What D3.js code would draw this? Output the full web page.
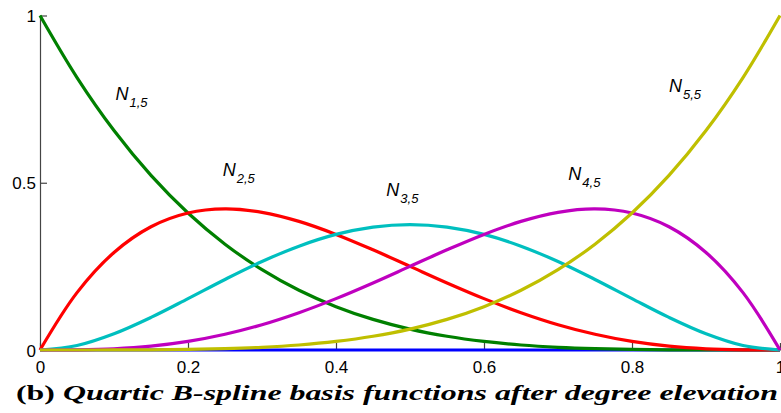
<!DOCTYPE html>
<html>
<head>
<meta charset="utf-8">
<script src="https://cdn.jsdelivr.net/npm/d3@7"></script>
<style>
  html, body { margin: 0; padding: 0; background: #fff; overflow: hidden; }
  svg { display: block; }
  .tick text, .lab { font-family: "Liberation Sans", Arimo, Arial, Helvetica, sans-serif; }
  .cap { font-family: "Liberation Serif", "DejaVu Serif", "Noto Serif", Tinos, "Times New Roman", serif; font-weight: bold; }
</style>
</head>
<body>
<svg id="chart" width="781" height="413"></svg>
<script>
// ---- data ----
const xs = [0, 0.05, 0.1, 0.15, 0.2, 0.25, 0.3, 0.35, 0.4, 0.45, 0.5,
            0.55, 0.6, 0.65, 0.7, 0.75, 0.8, 0.85, 0.9, 0.95, 1];
const N15 = [1, 0.8145, 0.6561, 0.522, 0.4096, 0.3164, 0.2401, 0.1785, 0.1296, 0.0915, 0.0625,
             0.041, 0.0256, 0.015, 0.0081, 0.0039, 0.0016, 0.0005, 0.0001, 0.0000, 0];
const N25 = [0, 0.1715, 0.2916, 0.3685, 0.4096, 0.4219, 0.4116, 0.3845, 0.3456, 0.2995, 0.25,
             0.2005, 0.1536, 0.1115, 0.0756, 0.0469, 0.0256, 0.0115, 0.0036, 0.0005, 0];
const N35 = [0, 0.0135, 0.0486, 0.0975, 0.1536, 0.2109, 0.2646, 0.3105, 0.3456, 0.3675, 0.375,
             0.3675, 0.3456, 0.3105, 0.2646, 0.2109, 0.1536, 0.0975, 0.0486, 0.0135, 0];
const N45 = [0, 0.0005, 0.0036, 0.0115, 0.0256, 0.0469, 0.0756, 0.1115, 0.1536, 0.2005, 0.25,
             0.2995, 0.3456, 0.3845, 0.4116, 0.4219, 0.4096, 0.3685, 0.2916, 0.1715, 0];
const N55 = [0, 0.0000, 0.0001, 0.0005, 0.0016, 0.0039, 0.0081, 0.015, 0.0256, 0.041, 0.0625,
             0.0915, 0.1296, 0.1785, 0.2401, 0.3164, 0.4096, 0.522, 0.6561, 0.8145, 1];
const baseLine = [0, 0, 0, 0, 0, 0, 0, 0, 0, 0, 0, 0, 0, 0, 0, 0, 0, 0, 0, 0, 0];

const seriesNames = ["N_{1,5}", "N_{2,5}", "N_{3,5}", "N_{4,5}", "N_{5,5}"];
const seriesColors = ["#008000", "#ff0000", "#00bfbf", "#bf00bf", "#bfbf00"];
const labelMain = ["N", "N", "N", "N", "N"];
const labelSub = ["1,5", "2,5", "3,5", "4,5", "5,5"];
// label anchor points in data units (x, y of the "N" baseline)
const labelX = [0.102, 0.247, 0.468, 0.714, 0.850];
const labelY = [0.748, 0.521, 0.461, 0.509, 0.772];

const xTicks = [0, 0.2, 0.4, 0.6, 0.8, 1];
const xTickLabels = ["0", "0.2", "0.4", "0.6", "0.8", "1"];
const yTicks = [0, 0.5, 1];
const yTickLabels = ["0", "0.5", "1"];
const captionPrefix = "(b) ";
const captionText = "Quartic B-spline basis functions after degree elevation";

// ---- layout ----
const svg = d3.select("#chart");
const x = d3.scaleLinear().domain([0, 1]).range([40, 780]);
const y = d3.scaleLinear().domain([0, 1]).range([350, 15.5]);

const line = d3.line()
  .x((d, i) => x(xs[i]))
  .y(d => y(d))
  .curve(d3.curveCatmullRom.alpha(0.5));

// axes (ticks pointing inward)
const xAxis = d3.axisBottom(x).tickValues(xTicks)
  .tickFormat((d, i) => xTickLabels[i]).tickSizeInner(-7).tickSizeOuter(0).tickPadding(14);
const yAxis = d3.axisLeft(y).tickValues(yTicks)
  .tickFormat((d, i) => yTickLabels[i]).tickSizeInner(-7).tickSizeOuter(0).tickPadding(4);

const gx = svg.append("g").attr("transform", `translate(0,${y(0)})`).call(xAxis);
const gy = svg.append("g").attr("transform", `translate(${x(0)},0)`).call(yAxis);
[gx, gy].forEach(g => {
  g.attr("font-family", null).attr("font-size", null);
  g.select(".domain").attr("stroke", "#444").attr("stroke-width", 1.2);
  g.selectAll(".tick line").attr("stroke", "#444").attr("stroke-width", 1.2);
  g.selectAll(".tick text")
    .attr("fill", "#000")
    .style("font-size", "17px");
});
gx.selectAll(".tick text").attr("dy", "0.5em");
gy.selectAll(".tick text").attr("dy", "0.36em");

// lines
svg.append("path")
  .attr("d", line(baseLine))
  .attr("fill", "none").attr("stroke", "#0000ff").attr("stroke-width", 3);

const allSeries = [N15, N25, N35, N45, N55];
svg.append("g").selectAll("path")
  .data(allSeries)
  .join("path")
  .attr("d", d => line(d))
  .attr("fill", "none")
  .attr("stroke", (d, i) => seriesColors[i])
  .attr("stroke-width", 3.2)
  .attr("stroke-linejoin", "round");

// labels
const lab = svg.append("g")
  .style("font-style", "italic")
  .attr("fill", "#000");
labelMain.forEach((m, i) => {
  const t = lab.append("text")
    .attr("class", "lab")
    .attr("x", x(labelX[i]))
    .attr("y", y(labelY[i]))
    .style("font-size", "18px");
  t.append("tspan").text(m);
  t.append("tspan").attr("dy", 7).attr("dx", 1).style("font-size", "13px").text(labelSub[i]);
});

// caption
const cap = svg.append("text")
  .attr("class", "cap")
  .attr("x", 16)
  .attr("y", 400)
  .attr("fill", "#000")
  .style("font-size", "22px")
  .attr("textLength", 762)
  .attr("lengthAdjust", "spacingAndGlyphs");
cap.append("tspan").style("font-style", "normal").text(captionPrefix);
cap.append("tspan").style("font-style", "italic").text(captionText);
</script>
</body>
</html>
